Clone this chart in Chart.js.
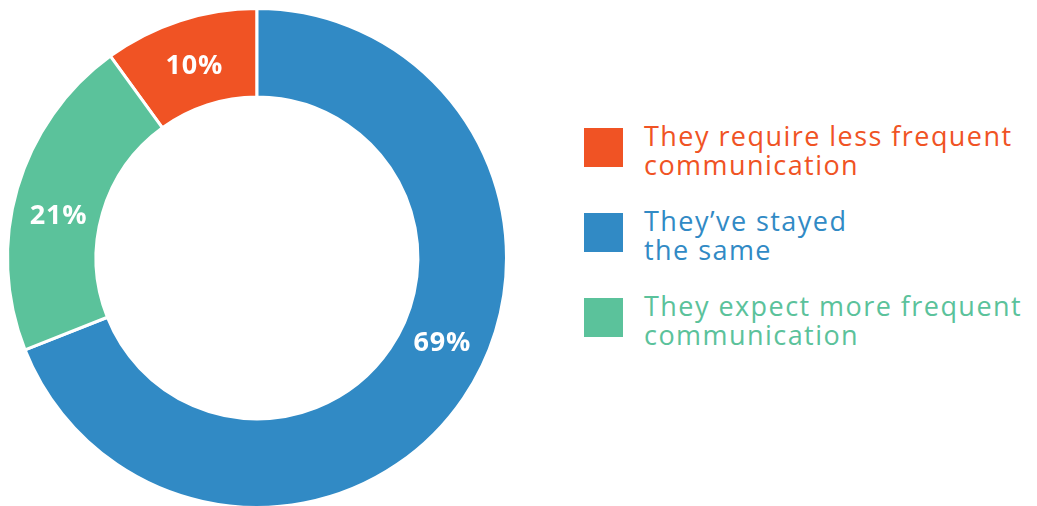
<!DOCTYPE html>
<html>
<head>
<meta charset="utf-8">
<script src="https://cdn.jsdelivr.net/npm/chart.js@4.4.1/dist/chart.umd.min.js"></script>
<style>
  html, body { margin: 0; padding: 0; background: #ffffff; overflow: hidden; width: 1037px; height: 506px; }
  #wrap { position: absolute; left: 0; top: 0; width: 514px; height: 516px; }
  #legend { position: absolute; left: 584px; top: 117px; font-family: "Open Sans", sans-serif; }
  .item { display: flex; align-items: center; height: 60px; margin-bottom: 25px; }
  .box { width: 39px; height: 39px; flex: none; margin-right: 21px; }
  .txt { font-size: 27px; line-height: 29px; letter-spacing: 1.45px; white-space: pre-line; position: relative; top: 3px; }
</style>
</head>
<body>
<div id="wrap"><canvas id="c"></canvas></div>
<div id="legend"></div>
<script>
const categories = [
  "They require less frequent\ncommunication",
  "They\u2019ve stayed\nthe same",
  "They expect more frequent\ncommunication"
];
const shares = [10, 69, 21];
const valueLabels = ["10%", "69%", "21%"];
const sliceColors = ["#F05324", "#318AC5", "#5BC29B"];
const labelAlong = [0.5, 0.46, 0.45];

const sliceLabels = {
  id: "sliceLabels",
  afterDatasetsDraw(chart) {
    const ctx = chart.ctx;
    const meta = chart.getDatasetMeta(0);
    ctx.save();
    ctx.fillStyle = "#ffffff";
    ctx.font = "bold 27px 'Open Sans', sans-serif";
    ctx.letterSpacing = "0.8px";
    ctx.textAlign = "center";
    ctx.textBaseline = "middle";
    meta.data.forEach((arc, i) => {
      const p = arc.getProps(["x", "y", "startAngle", "endAngle", "innerRadius", "outerRadius"], true);
      const a = p.startAngle + (p.endAngle - p.startAngle) * labelAlong[i];
      const r = (p.innerRadius + p.outerRadius) / 2 - 2;
      ctx.fillText(valueLabels[i], p.x + Math.cos(a) * r, p.y + Math.sin(a) * r + 2);
    });
    ctx.restore();
  }
};

new Chart(document.getElementById("c"), {
  type: "doughnut",
  data: {
    labels: categories,
    datasets: [{
      data: shares,
      backgroundColor: sliceColors,
      borderColor: "#ffffff",
      borderWidth: 3
    }]
  },
  options: {
    responsive: true,
    maintainAspectRatio: false,
    animation: false,
    cutout: "64.5%",
    rotation: -36,
    layout: { padding: { left: 6, right: 6, top: 7, bottom: 7 } },
    plugins: { legend: { display: false }, tooltip: { enabled: false } }
  },
  plugins: [sliceLabels]
});

const legend = document.getElementById("legend");
categories.forEach((c, i) => {
  const item = document.createElement("div");
  item.className = "item";
  const box = document.createElement("div");
  box.className = "box";
  box.style.background = sliceColors[i];
  const t = document.createElement("div");
  t.className = "txt";
  t.style.color = sliceColors[i];
  t.textContent = c;
  item.appendChild(box);
  item.appendChild(t);
  legend.appendChild(item);
});
</script>
</body>
</html>
